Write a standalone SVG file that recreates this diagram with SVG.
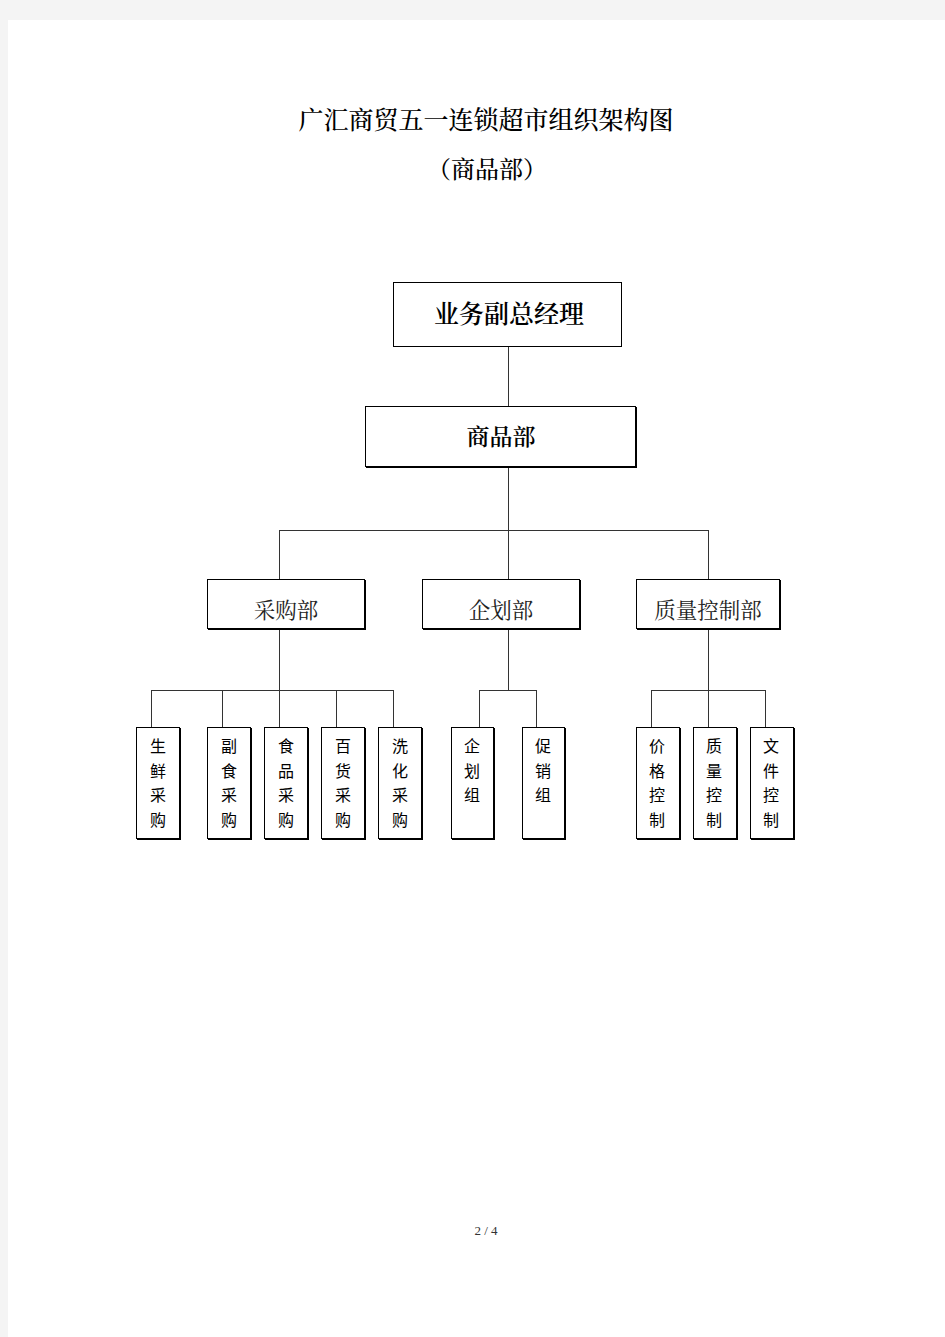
<svg xmlns="http://www.w3.org/2000/svg" width="945" height="1337" viewBox="0 0 945 1337">
<style>
.ser{font-family:"Noto Serif CJK SC","Liberation Serif","Noto Sans CJK SC",serif;fill:#000}
.box{fill:#fff;stroke:#000;stroke-width:1}
.sh{fill:none;stroke:#000;stroke-width:2}
.ln{fill:none;stroke:#333;stroke-width:1}
.v{font-family:"Noto Sans CJK SC",sans-serif;font-size:16px;fill:#000;text-anchor:middle}
.m{font-size:21.5px;text-anchor:middle;fill:#222}
</style>
<rect x="0" y="0" width="945" height="1337" fill="#f4f4f4"/>
<rect x="8" y="20" width="937" height="1317" fill="#fff"/>
<text class="ser" x="486" y="129" font-size="25" text-anchor="middle" font-weight="500">广汇商贸五一连锁超市组织架构图</text>
<text class="ser" x="487" y="178" font-size="24" text-anchor="middle" font-weight="500">（商品部）</text>
<g id="connectors">
<path class="ln" d="M508.5 346V406M508.5 467V579M279.5 530.5H708.5M279.5 530V579M708.5 530V579"/>
<path class="ln" d="M279.5 629V727M151.5 690.5H393.5M151.5 690V727M222.5 690V727M336.5 690V727M393.5 690V727"/>
<path class="ln" d="M508.5 629V690.5M479.5 690.5H536.5M479.5 690V727M536.5 690V727"/>
<path class="ln" d="M708.5 629V727M651.5 690.5H765.5M651.5 690V727M765.5 690V727"/>
</g>
<g id="n-vp"><rect class="box" x="393.5" y="282.5" width="228" height="64"/><text class="ser" x="509" y="323" font-size="25" text-anchor="middle" font-weight="600">业务副总经理</text></g>
<g id="n-spb"><rect class="box" x="365.5" y="406.5" width="270" height="60"/><path class="sh" d="M636 407V467H366"/><text class="ser" x="501" y="445" font-size="23" text-anchor="middle" font-weight="600">商品部</text></g>
<g id="n-cgb"><rect class="box" x="207.5" y="579.5" width="157" height="49"/><path class="sh" d="M365 580V629H208"/><text class="ser m" x="286" y="618">采购部</text></g>
<g id="n-qhb"><rect class="box" x="422.5" y="579.5" width="157" height="49"/><path class="sh" d="M580 580V629H423"/><text class="ser m" x="501" y="618">企划部</text></g>
<g id="n-zlb"><rect class="box" x="636.5" y="579.5" width="143" height="49"/><path class="sh" d="M780 580V629H637"/><text class="ser m" x="708" y="618" font-size="22">质量控制部</text></g>
<g id="n-sx"><rect class="box" x="136.5" y="727.5" width="43" height="111"/><path class="sh" d="M180 728V839H137"/><text class="v"><tspan x="158" y="752">生</tspan><tspan x="158" y="777">鲜</tspan><tspan x="158" y="801">采</tspan><tspan x="158" y="826">购</tspan></text></g>
<g id="n-fs"><rect class="box" x="207.5" y="727.5" width="43" height="111"/><path class="sh" d="M251 728V839H208"/><text class="v"><tspan x="229" y="752">副</tspan><tspan x="229" y="777">食</tspan><tspan x="229" y="801">采</tspan><tspan x="229" y="826">购</tspan></text></g>
<g id="n-sp"><rect class="box" x="264.5" y="727.5" width="43" height="111"/><path class="sh" d="M308 728V839H265"/><text class="v"><tspan x="286" y="752">食</tspan><tspan x="286" y="777">品</tspan><tspan x="286" y="801">采</tspan><tspan x="286" y="826">购</tspan></text></g>
<g id="n-bh"><rect class="box" x="321.5" y="727.5" width="43" height="111"/><path class="sh" d="M365 728V839H322"/><text class="v"><tspan x="343" y="752">百</tspan><tspan x="343" y="777">货</tspan><tspan x="343" y="801">采</tspan><tspan x="343" y="826">购</tspan></text></g>
<g id="n-xh"><rect class="box" x="378.5" y="727.5" width="43" height="111"/><path class="sh" d="M422 728V839H379"/><text class="v"><tspan x="400" y="752">洗</tspan><tspan x="400" y="777">化</tspan><tspan x="400" y="801">采</tspan><tspan x="400" y="826">购</tspan></text></g>
<g id="n-qhz"><rect class="box" x="451.5" y="727.5" width="42" height="111"/><path class="sh" d="M494 728V839H452"/><text class="v"><tspan x="472" y="752">企</tspan><tspan x="472" y="777">划</tspan><tspan x="472" y="801">组</tspan></text></g>
<g id="n-cxz"><rect class="box" x="522.5" y="727.5" width="42" height="111"/><path class="sh" d="M565 728V839H523"/><text class="v"><tspan x="543" y="752">促</tspan><tspan x="543" y="777">销</tspan><tspan x="543" y="801">组</tspan></text></g>
<g id="n-jg"><rect class="box" x="636.5" y="727.5" width="43" height="111"/><path class="sh" d="M680 728V839H637"/><text class="v"><tspan x="657" y="752">价</tspan><tspan x="657" y="777">格</tspan><tspan x="657" y="801">控</tspan><tspan x="657" y="826">制</tspan></text></g>
<g id="n-zl"><rect class="box" x="693.5" y="727.5" width="43" height="111"/><path class="sh" d="M737 728V839H694"/><text class="v"><tspan x="714" y="752">质</tspan><tspan x="714" y="777">量</tspan><tspan x="714" y="801">控</tspan><tspan x="714" y="826">制</tspan></text></g>
<g id="n-wj"><rect class="box" x="750.5" y="727.5" width="43" height="111"/><path class="sh" d="M794 728V839H751"/><text class="v"><tspan x="771" y="752">文</tspan><tspan x="771" y="777">件</tspan><tspan x="771" y="801">控</tspan><tspan x="771" y="826">制</tspan></text></g>
<text x="486" y="1235" font-family="Liberation Serif,serif" font-size="13" text-anchor="middle" fill="#333">2 / 4</text>
</svg>
